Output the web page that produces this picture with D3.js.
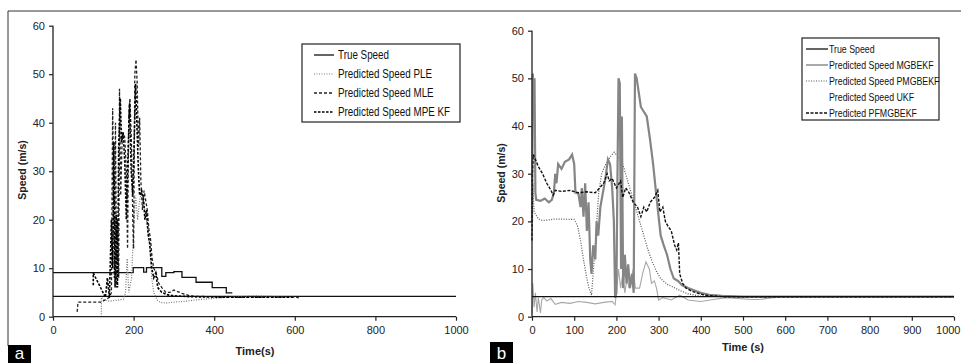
<!DOCTYPE html>
<html><head><meta charset="utf-8">
<script src="https://cdn.jsdelivr.net/npm/d3@7"></script>
<style>body{margin:0;background:#fff}svg{display:block}text{font-family:"Liberation Sans",Arial,sans-serif}</style>
</head><body><svg id="c" width="961" height="363"></svg>
<script>
// ---------- DATA ----------
const yTicks = [0, 10, 20, 30, 40, 50, 60];
const xTicksA = [0, 200, 400, 600, 800, 1000];
const xTicksB = [0, 100, 200, 300, 400, 500, 600, 700, 800, 900, 1000];

// Panel a
const seriesNamesA = ["True Speed", "Predicted Speed PLE", "Predicted Speed MLE", "Predicted Speed MPE KF"];
const trueSpeedA_low = [[0,4.2],[1000,4.2]];
const trueSpeedA_high = [[0,9.1],[199,10.1],[225,9.2],[232,10.1],[270,8.3],[280,9.1],[300,9.3],[320,8.1],[355,7.1],[395,6.0],[430,4.9],[445,4.9]];
const pleA = [[120,0],[120,4],[125,3.5],[140,3.2],[160,3.4],[175,3.6],[180,5],[184,12],[188,5],[195,8],[200,18],[205,25],[210,20],[215,24],[220,26],[228,22],[235,18],[240,15],[245,8],[250,5],[258,3.5],[265,3],[280,2.8],[300,3],[330,3.2],[360,3.5],[400,3.8],[430,4],[500,4.3],[600,4]];
const mleA = [[60,1],[62,3],[100,3],[120,3],[130,3.5],[140,4],[145,5],[148,43],[150,30],[152,8],[155,40],[158,6],[160,20],[163,8],[165,47],[168,25],[172,38],[178,37],[182,30],[185,14],[188,42],[191,45],[195,35],[198,20],[200,14],[203,50],[206,53],[209,48],[212,35],[215,41],[218,28],[222,22],[226,26],[230,24],[234,22],[238,18],[242,16],[246,12],[250,10],[256,9],[262,7],[270,6],[280,5],[290,5],[300,5.5],[320,4.8],[340,4.3],[360,4.2],[400,4.1],[450,4],[500,4],[600,4.1],[610,3.9]];
const mpeA = [[100,6.5],[100,9],[130,4],[135,8],[140,4],[145,20],[148,10],[151,36],[154,6],[157,21],[160,6],[163,35],[167,45],[170,36],[174,38],[178,32],[182,20],[186,33],[190,44],[194,30],[198,25],[202,38],[205,48],[208,40],[212,30],[215,25],[220,26],[225,24],[228,20],[232,22],[236,17],[240,15],[245,10],[250,8],[255,9],[260,6],[270,5],[285,4.5],[300,4.3],[350,4.1],[450,4],[600,4]];

// Panel b
const seriesNamesB = ["True Speed", "Predicted Speed MGBEKF", "Predicted Speed PMGBEKF", "Predicted Speed UKF", "Predicted PFMGBEKF"];
const trueSpeedB = [[0,4.2],[1000,4.2]];
const mgbekfB = [[0,20],[2,51],[4,45],[6,50],[8,26],[10,24.5],[20,24.3],[30,24.8],[40,24],[47,24.5],[52,26],[55,30],[58,28],[62,32],[70,31],[78,32.5],[88,33],[95,34],[100,32],[103,26],[110,25.8],[115,23],[118,27],[122,21],[126,28],[130,18],[134,24],[138,12],[141,9],[145,15],[150,12],[153,20],[157,17],[162,23],[168,26],[174,29],[180,33],[185,32],[190,27],[194,20],[197,4],[200,5],[202,25],[205,50],[208,49],[211,10],[213,42],[216,6],[220,13],[224,7],[228,11],[232,6],[237,9],[241,5],[244,51],[248,50],[253,47],[258,44],[265,43],[272,42],[280,37],[287,32],[294,26],[300,21],[305,17],[312,15],[320,13],[328,10],[336,8],[346,7.5],[356,6.6],[370,6],[385,5.5],[400,5],[420,4.6],[450,4.4],[500,4.2],[1000,4.2]];
const pmgbekfB = [[0,17],[2,28],[5,22],[15,20.5],[25,20.2],[40,20.3],[55,20.5],[100,20.4],[108,19],[115,16],[122,12],[130,8],[135,6],[141,4.5],[150,15],[158,26],[165,30],[175,32],[185,33.5],[195,34.5],[205,33.5],[215,32],[225,29],[235,26],[245,23],[255,20],[265,17],[275,14],[285,11.5],[295,9.5],[305,8],[320,6.8],[335,6.2],[350,5.5],[370,4.8],[400,4.3],[500,4.2],[1000,4.2]];
const ukfB = [[0,0.5],[2,7],[5,2],[8,5],[12,1],[15,4],[20,0.8],[23,3.5],[28,4],[35,3.3],[45,3.8],[55,2.6],[70,3],[90,2.8],[110,3.2],[130,3],[150,2.7],[170,3],[190,3.2],[197,2.5],[200,5],[205,10],[210,6],[215,9],[220,5],[225,8],[230,6],[240,10],[245,6],[255,6],[262,9],[270,11.5],[278,10],[283,7],[290,7.5],[295,6],[300,3.5],[310,4],[330,3.5],[350,4.5],[370,3.5],[400,3.2],[430,3.6],[460,4],[520,3.6],[540,3.6],[560,3.9],[600,4.2],[1000,4.2]];
const pfmgbekfB = [[0,16],[1,30],[3,34],[8,33],[15,31.5],[25,30],[35,28],[45,26.5],[50,25.5],[55,26.5],[70,26.3],[90,26.5],[110,26],[130,26.2],[150,26],[160,27],[170,28],[178,30],[183,28.5],[190,29],[200,27],[210,28.5],[215,25],[222,27],[230,26],[240,24],[250,23],[258,21],[265,23],[272,22],[280,24],[290,25],[298,26.5],[303,22],[310,23],[316,20],[322,19],[330,18],[338,15],[343,14],[347,15.5],[350,9],[357,7],[365,6],[375,5.5],[390,5],[410,4.5],[450,4.2],[1000,4.2]];

// ---------- STYLES ----------
const styles = {
  true:   {stroke:"#111", width:1.3, dash:null},
  ple:    {stroke:"#777", width:1.2, dash:"1,1.5"},
  mle:    {stroke:"#222", width:1.3, dash:"3,2"},
  mpe:    {stroke:"#000", width:1.6, dash:"2.5,1.5"},
  mgb:    {stroke:"#858585", width:2.2, dash:null},
  pmg:    {stroke:"#555", width:1.2, dash:"1,1.5"},
  ukf:    {stroke:"#a8a8a8", width:1.1, dash:null},
  pfm:    {stroke:"#111", width:1.4, dash:"3,1.5"}
};

const svg = d3.select("#c");
const font = '"Liberation Sans",Arial,sans-serif';

// frame
svg.append("line").attr("x1",8).attr("y1",11).attr("x2",961).attr("y2",11).attr("stroke","#333").attr("stroke-width",1);
svg.append("line").attr("x1",8).attr("y1",11).attr("x2",8).attr("y2",346).attr("stroke","#333").attr("stroke-width",1);

function panel(cfg) {
  const x = d3.scaleLinear().domain([0,1000]).range([cfg.x0, cfg.x1]);
  const y = d3.scaleLinear().domain([0,60]).range([cfg.y0, cfg.y1]);
  const g = svg.append("g");
  const line = d3.line().x(d=>x(d[0])).y(d=>y(d[1]));
  const stepLine = d3.line().x(d=>x(d[0])).y(d=>y(d[1])).curve(d3.curveStepAfter);

  cfg.series.forEach(s => {
    const st = styles[s.style];
    g.append("path").datum(s.data)
      .attr("d", s.step ? stepLine : line)
      .attr("fill","none").attr("stroke",st.stroke).attr("stroke-width",st.width)
      .attr("stroke-dasharray",st.dash).attr("stroke-linejoin","miter");
  });

  // axes
  const ax = g.append("g").attr("transform",`translate(0,${cfg.y0})`)
    .call(d3.axisBottom(x).tickValues(cfg.xTicks).tickSize(4).tickPadding(6).tickFormat(d3.format("d")));
  const ay = g.append("g").attr("transform",`translate(${cfg.x0},0)`)
    .call(d3.axisLeft(y).tickValues(yTicks).tickSize(4).tickPadding(4).tickFormat(d3.format("d")));
  [ax, ay].forEach(a => {
    a.select(".domain").attr("stroke","#222").attr("stroke-width",1.3);
    a.selectAll(".tick line").attr("stroke","#222").attr("stroke-width",1.2);
    a.selectAll("text").attr("font-family",font).attr("font-size",11).attr("fill","#222");
  });
  ax.select(".domain").attr("d",`M${cfg.x0},0H${cfg.x1}`);
  ay.select(".domain").attr("d",`M0,${cfg.y0}V${cfg.y1}`);
  if (cfg.lastTickEnd) {
    ax.selectAll(".tick text").filter(d => d === 1000).attr("text-anchor","end").attr("x", cfg.lastTickEnd - cfg.x1);
  }

  // axis titles
  g.append("text").attr("x",cfg.xlx).attr("y",cfg.xly).attr("text-anchor","middle")
    .attr("font-size",11).attr("font-weight","bold").attr("fill","#222").text(cfg.xlabel);
  g.append("text").attr("transform",`translate(${cfg.ylx},${cfg.yly}) rotate(-90)`).attr("text-anchor","middle")
    .attr("font-size",10.5).attr("font-weight","bold").attr("fill","#222").text("Speed (m/s)");

  // legend
  const L = cfg.legend;
  g.append("rect").attr("x",L.x).attr("y",L.y).attr("width",L.w).attr("height",L.h)
    .attr("fill","#fff").attr("stroke","#222").attr("stroke-width",1.2);
  L.items.forEach((it,i) => {
    const yy = L.y + L.first + i*L.step;
    const st = styles[it.style];
    if (it.show !== false) {
      g.append("line").attr("x1",L.lx1).attr("x2",L.lx2).attr("y1",yy).attr("y2",yy)
        .attr("stroke",st.stroke).attr("stroke-width",Math.min(st.width,1.4)).attr("stroke-dasharray",st.dash);
    }
    g.append("text").attr("transform",`translate(${L.tx},${yy+4}) scale(${L.sx},1)`)
      .attr("font-size",L.fs).attr("fill","#111").text(it.name);
  });

  // panel tag
  g.append("rect").attr("x",cfg.tag.x).attr("y",cfg.tag.y).attr("width",23).attr("height",363-cfg.tag.y).attr("fill","#000");
  g.append("text").attr("x",cfg.tag.x+11.5).attr("y",358.5).attr("text-anchor","middle")
    .attr("font-size",cfg.tag.fs).attr("fill","#fff").text(cfg.tag.t);
}

panel({
  x0:53, x1:456, y0:316.7, y1:25.7, xTicks:xTicksA,
  xlabel:"Time(s)", xlx:255, xly:355, ylx:26, yly:170,
  series:[
    {data:trueSpeedA_low, style:"true"},
    {data:trueSpeedA_high, style:"true", step:true},
    {data:pleA, style:"ple"},
    {data:mleA, style:"mle"},
    {data:mpeA, style:"mpe"}
  ],
  legend:{x:302,y:44,w:158,h:78,first:11,step:19,lx1:314,lx2:334,tx:338,fs:12,sx:0.82,
    items:[{name:seriesNamesA[0],style:"true"},{name:seriesNamesA[1],style:"ple"},{name:seriesNamesA[2],style:"mle"},{name:seriesNamesA[3],style:"mpe"}]},
  tag:{x:8,y:345,t:"a",fs:17}
});

panel({
  x0:532, x1:954, y0:316.7, y1:30.7, xTicks:xTicksB, lastTickEnd:960,
  xlabel:"Time (s)", xlx:743, xly:351, ylx:505, yly:173,
  series:[
    {data:ukfB, style:"ukf"},
    {data:pmgbekfB, style:"pmg"},
    {data:mgbekfB, style:"mgb"},
    {data:pfmgbekfB, style:"pfm"},
    {data:trueSpeedB, style:"true"}
  ],
  legend:{x:802,y:38,w:137,h:82,first:11,step:16,lx1:806,lx2:828,tx:829,fs:11,sx:0.8,
    items:[{name:seriesNamesB[0],style:"true"},{name:seriesNamesB[1],style:"mgb"},{name:seriesNamesB[2],style:"pmg"},{name:seriesNamesB[3],style:"ukf",show:false},{name:seriesNamesB[4],style:"pfm"}]},
  tag:{x:490,y:342,t:"b",fs:17}
});
</script></body></html>
